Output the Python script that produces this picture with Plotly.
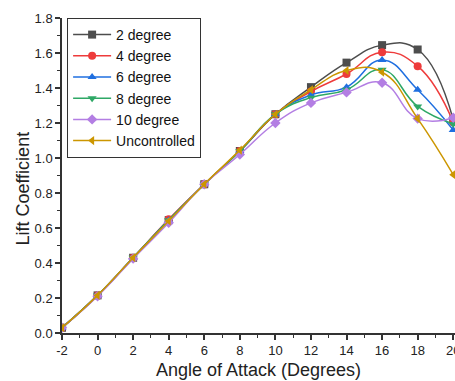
import plotly.graph_objects as go

aoa = [-2, 0, 2, 4, 6, 8, 10, 12, 14, 16, 18, 20]
x_tick_vals = [-2, 0, 2, 4, 6, 8, 10, 12, 14, 16, 18, 20]
x_tick_text = ["-2", "0", "2", "4", "6", "8", "10", "12", "14", "16", "18", "20"]

deg2 = [0.03, 0.215, 0.43, 0.645, 0.85, 1.04, 1.25, 1.405, 1.545, 1.645, 1.62, 1.22]
deg4 = [0.03, 0.215, 0.43, 0.65, 0.85, 1.04, 1.25, 1.38, 1.48, 1.605, 1.525, 1.205]
deg6 = [0.03, 0.215, 0.43, 0.645, 0.85, 1.04, 1.25, 1.36, 1.405, 1.56, 1.39, 1.16]
deg8 = [0.03, 0.215, 0.43, 0.645, 0.85, 1.04, 1.25, 1.345, 1.39, 1.505, 1.295, 1.195]
deg10 = [0.03, 0.21, 0.425, 0.63, 0.85, 1.02, 1.20, 1.315, 1.375, 1.43, 1.225, 1.23]
uncontrolled = [0.03, 0.215, 0.43, 0.64, 0.85, 1.045, 1.25, 1.39, 1.50, 1.49, 1.225, 0.905]

series = [
    ("2 degree", deg2, "#4d4d4d", "square"),
    ("4 degree", deg4, "#ee3b3b", "circle"),
    ("6 degree", deg6, "#1f6fe0", "triangle-up"),
    ("8 degree", deg8, "#2ea866", "triangle-down"),
    ("10 degree", deg10, "#b37ee3", "diamond"),
    ("Uncontrolled", uncontrolled, "#cc9600", "triangle-left"),
]

FONT = "Liberation Sans, Arial"

fig = go.Figure()
for name, ys, color, sym in series:
    fig.add_trace(go.Scatter(
        x=aoa, y=ys, name=name, mode="lines+markers",
        line=dict(color=color, width=1.5, shape="spline", smoothing=1.3),
        marker=dict(symbol=sym, size=8, color=color),
    ))

axis_common = dict(
    showline=True, linecolor="#333333", linewidth=1.5, mirror=False,
    ticks="outside", ticklen=5, tickwidth=1.5, tickcolor="#333333",
    showgrid=False, zeroline=False,
    tickfont=dict(family=FONT, size=13, color="#222222"),
    minor=dict(ticks="outside", ticklen=3, tickwidth=1.2, tickcolor="#333333"),
    ticklabeloverflow="allow",
)

fig.update_xaxes(
    range=[-2, 20.1], tickmode="array", tickvals=x_tick_vals, ticktext=x_tick_text,
    minor_dtick=1, minor_tick0=-1,
    automargin=False, **axis_common,
)
fig.update_yaxes(
    range=[0, 1.8], dtick=0.2, tickformat=".1f", minor_dtick=0.1,
    automargin=False, **axis_common,
)

title_font = dict(family=FONT, size=18, color="#222222")
fig.add_annotation(
    text="Angle of Attack (Degrees)", xref="paper", yref="paper",
    x=0.5, y=-0.116, xanchor="center", yanchor="middle",
    showarrow=False, font=title_font,
)
fig.add_annotation(
    text="Lift Coefficient", xref="paper", yref="paper",
    x=-0.098, y=0.46, xanchor="center", yanchor="middle", textangle=-90,
    showarrow=False, font=title_font,
)

fig.update_layout(
    width=455, height=381,
    margin=dict(l=62, r=0, t=18, b=48),
    paper_bgcolor="white", plot_bgcolor="white",
    legend=dict(
        x=0.013, y=1.0, xanchor="left", yanchor="top",
        bordercolor="#333333", borderwidth=1, bgcolor="rgba(255,255,255,0.9)",
        font=dict(family=FONT, size=14, color="#111111"),
        itemwidth=38, tracegroupgap=0,
    ),
)

fig.write_html("out.html")
